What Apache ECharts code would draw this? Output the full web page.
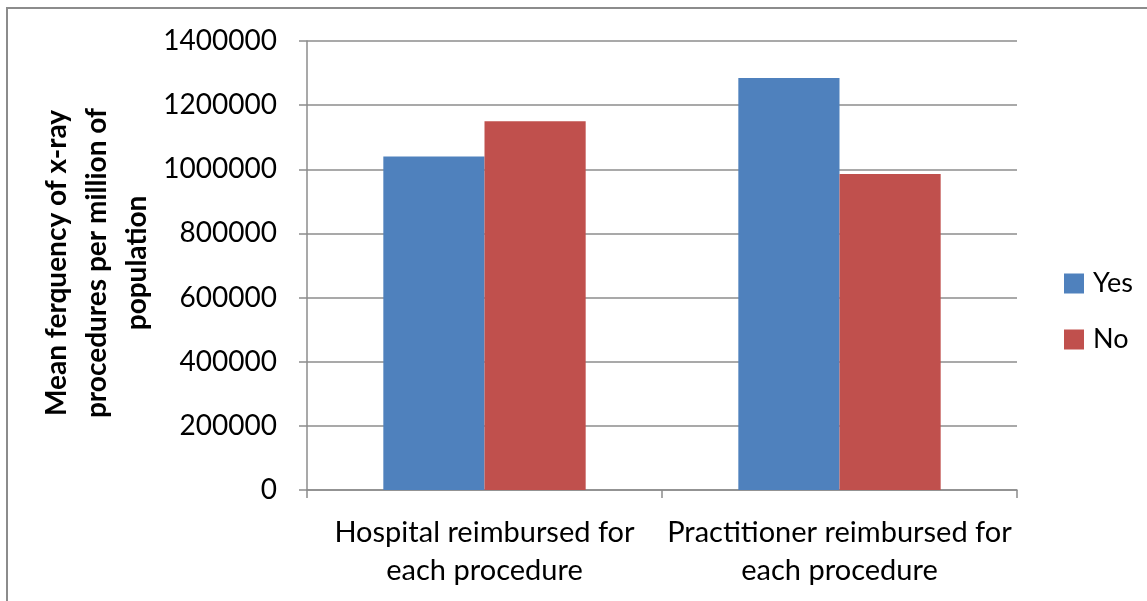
<!DOCTYPE html>
<html>
<head>
<meta charset="utf-8">
<script src="https://cdn.jsdelivr.net/npm/echarts@6/dist/echarts.min.js"></script>
<style>
  html, body { margin: 0; padding: 0; background: #ffffff; }
  #chart { width: 1147px; height: 601px; }
</style>
</head>
<body>
<div id="chart"></div>
<script>
// Categories and series values
const categories = [
  'Hospital reimbursed for\neach procedure',
  'Practitioner reimbursed for\neach procedure'
];
const seriesNames = ['Yes', 'No'];
const yesValues = [1040000, 1285000];
const noValues = [1150000, 985000];
const yTicks = { min: 0, max: 1400000, interval: 200000 };
const yTitle = 'Mean ferquency of x-ray\nprocedures per million of\npopulation';

const FONT = 'Lato, "Open Sans", sans-serif';
const GRID_COLOR = '#8c8c8c';

const chart = echarts.init(document.getElementById('chart'), null, { renderer: 'canvas' });

chart.setOption({
  backgroundColor: '#ffffff',
  animation: false,
  grid: { left: 307, top: 41, right: 130, bottom: 111, containLabel: false },
  legend: {
    orient: 'vertical',
    left: 1059,
    top: 265,
    itemWidth: 20,
    itemHeight: 20,
    itemGap: 29,
    icon: 'rect',
    data: seriesNames,
    textStyle: { fontFamily: FONT, fontSize: 27, color: '#000', padding: [0, 0, 0, 4] }
  },
  xAxis: {
    type: 'category',
    data: categories,
    axisLine: { lineStyle: { color: GRID_COLOR, width: 1.5 } },
    axisTick: { show: true, length: 8, alignWithLabel: false, lineStyle: { color: GRID_COLOR, width: 1.5 } },
    axisLabel: {
      fontFamily: FONT, fontSize: 29, color: '#000', lineHeight: 38, margin: 24, interval: 0
    }
  },
  yAxis: {
    type: 'value',
    min: yTicks.min,
    max: yTicks.max,
    interval: yTicks.interval,
    axisLine: { show: true, lineStyle: { color: GRID_COLOR, width: 1.5 } },
    axisTick: { show: true, inside: false, length: 8, lineStyle: { color: GRID_COLOR, width: 1.5 } },
    splitLine: { show: true, lineStyle: { color: GRID_COLOR, width: 1.5 } },
    axisLabel: {
      fontFamily: FONT, fontSize: 28, color: '#000', margin: 30,
      formatter: (v) => String(v)
    }
  },
  series: [
    {
      name: seriesNames[0], type: 'bar', data: yesValues,
      barGap: 0, barCategoryGap: '43%',
      itemStyle: { color: '#4f81bd' }
    },
    {
      name: seriesNames[1], type: 'bar', data: noValues,
      barGap: 0, barCategoryGap: '43%',
      itemStyle: { color: '#c0504d' }
    }
  ],
  graphic: [
    {
      type: 'rect',
      shape: { x: 7, y: 8, width: 1200, height: 700 },
      style: { fill: 'none', stroke: '#8c8c8c', lineWidth: 2 },
      silent: true,
      z: -1
    },
    {
      type: 'text',
      x: 97,
      y: 263,
      rotation: Math.PI / 2,
      style: {
        text: yTitle,
        fontFamily: FONT,
        fontWeight: 'bold',
        fontSize: 28,
        lineHeight: 40,
        fill: '#000',
        align: 'center',
        verticalAlign: 'middle'
      }
    }
  ]
});
</script>
</body>
</html>
